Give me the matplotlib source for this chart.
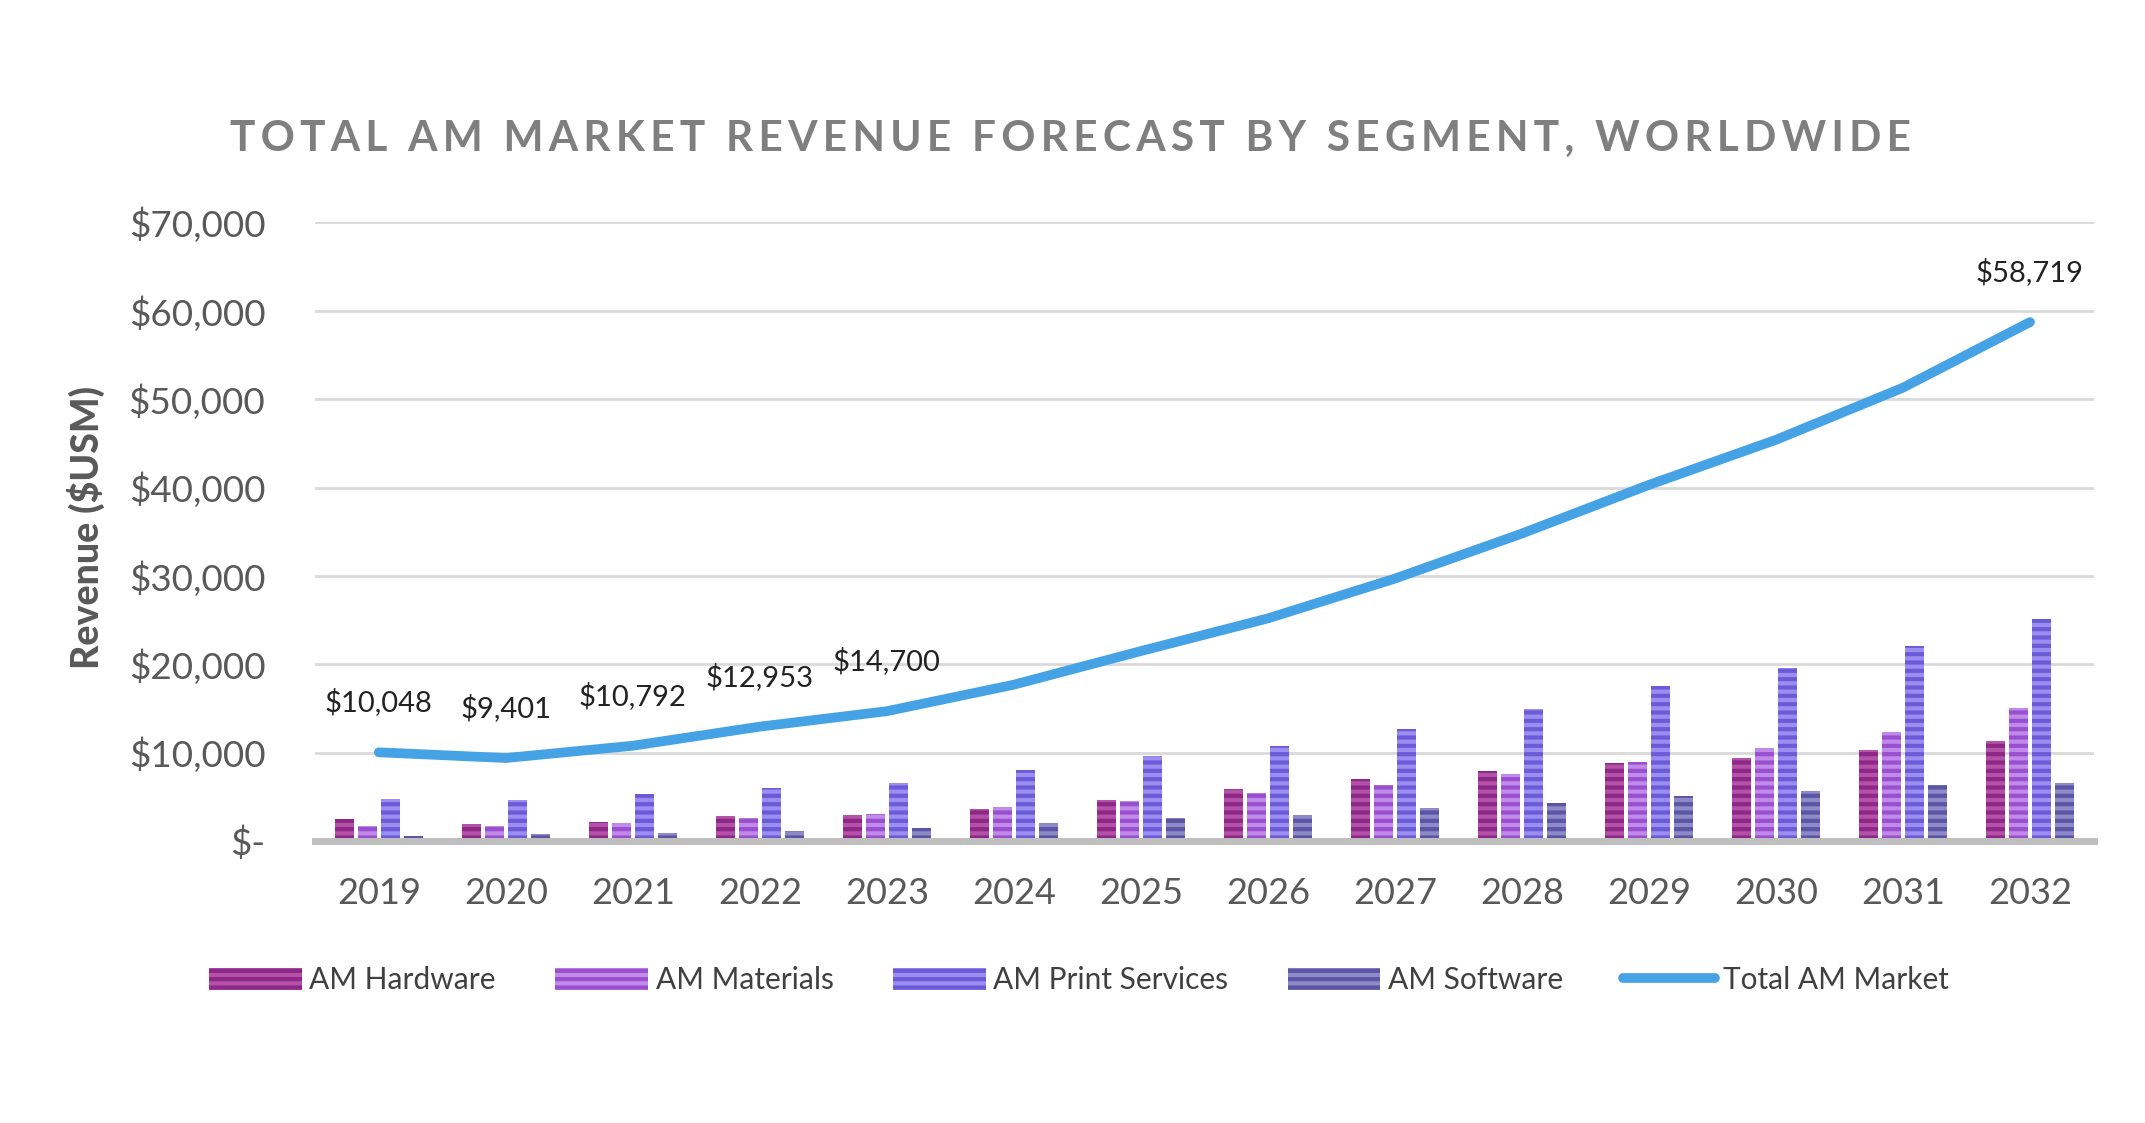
import numpy as np
import matplotlib
matplotlib.use("Agg")
import matplotlib.pyplot as plt
from matplotlib.ticker import FuncFormatter

# data ($USM)
years = ["2019", "2020", "2021", "2022", "2023", "2024", "2025",
         "2026", "2027", "2028", "2029", "2030", "2031", "2032"]
hardware = [2500, 1900, 2200, 2800, 2900, 3600, 4600, 5900, 7000, 7900, 8800, 9400, 10300, 11300]
materials = [1700, 1700, 2000, 2600, 3100, 3900, 4500, 5400, 6300, 7600, 9000, 10500, 12400, 15100]
print_services = [4800, 4600, 5300, 6000, 6600, 8000, 9600, 10800, 12700, 15000, 17600, 19600, 22100, 25100]
software = [600, 800, 900, 1200, 1500, 2000, 2600, 2900, 3700, 4300, 5100, 5700, 6300, 6600]
total = [10048, 9401, 10792, 12953, 14700, 17700, 21500, 25200, 29700, 34800, 40300, 45400, 51300, 58719]
labelled = [0, 1, 2, 3, 4, 13]

series = [
    ("AM Hardware", hardware, "#B452A8", "#8E2888"),
    ("AM Materials", materials, "#C08AE8", "#9A4FD0"),
    ("AM Print Services", print_services, "#9C8EF0", "#6A5CD8"),
    ("AM Software", software, "#8E8AC8", "#5A55A5"),
]

plt.rcParams['font.family'] = ['Lato', 'DejaVu Sans']
plt.rcParams['hatch.linewidth'] = 3.0

fig = plt.figure(figsize=(21.45, 11.23), dpi=100)
ax = fig.add_axes([0.147, 0.251, 0.829, 0.551])

x = np.arange(len(years))
w = 0.15
offsets = [-0.27, -0.09, 0.09, 0.27]
handles = []
for (name, vals, face, dark), off in zip(series, offsets):
    b = ax.bar(x + off, vals, w, color=face, edgecolor=dark, hatch='--',
               linewidth=0, label=name, zorder=3)
    handles.append(b)

line, = ax.plot(x, total, color="#45A3E5", lw=7, solid_capstyle='round',
                label="Total AM Market", zorder=4)
handles.append(line)

for i in labelled:
    ax.annotate("${:,}".format(total[i]), (x[i], total[i]), xytext=(0, 36),
                textcoords='offset points', ha='center', va='center',
                fontsize=21, color="#222222")

ax.set_xlim(-0.5, len(years) - 0.5)
ax.set_ylim(0, 70000)
ax.set_yticks(np.arange(0, 70001, 10000))
ax.yaxis.set_major_formatter(FuncFormatter(lambda v, p: "$-" if v == 0 else "${:,.0f}".format(v)))
ax.set_xticks(x)
ax.set_xticklabels(years)
ax.tick_params(axis='y', length=0, pad=36, labelsize=26.5, labelcolor="#595959")
ax.tick_params(axis='x', length=0, pad=26, labelsize=26, labelcolor="#595959")

ax.grid(axis='y', color="#D9D9D9", lw=2, zorder=0)
for s in ['top', 'right', 'left']:
    ax.spines[s].set_visible(False)
ax.spines['bottom'].set_color("#BFBFBF")
ax.spines['bottom'].set_linewidth(5)
ax.spines['bottom'].set_zorder(5)

fig.text(0.040, 0.530, "Revenue ($USM)", rotation=90, ha='center', va='center',
         fontsize=27, fontweight='black', color="#595959")

# spread the letters out, Excel style
title = "TOTAL AM MARKET REVENUE FORECAST BY SEGMENT, WORLDWIDE"
title = "\u2009".join(title)
fig.text(0.499, 0.876, title, ha='center', va='center', fontsize=30.5,
         fontweight='bold', color="#7F7F7F")

fig.legend(handles=handles, loc='center', bbox_to_anchor=(0.503, 0.127), ncol=5,
           frameon=False, fontsize=21.5, handlelength=3.1, handleheight=0.8,
           columnspacing=2.0, handletextpad=0.25, labelcolor="#404040")

fig.savefig("out.png", dpi=100, facecolor="white")
